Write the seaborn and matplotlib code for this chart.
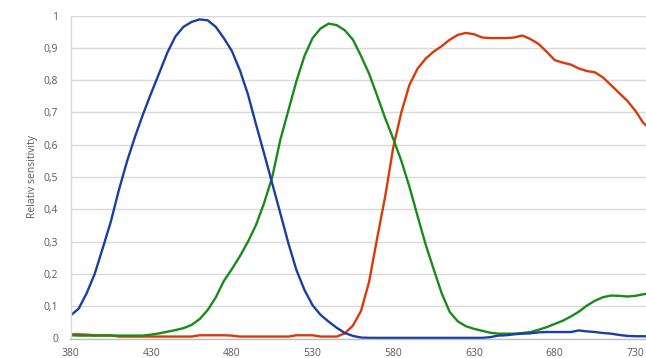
import numpy as np
import pandas as pd
import matplotlib
matplotlib.use("Agg")
import matplotlib.pyplot as plt
import seaborn as sns

wavelength = list(range(380, 745, 5))

blue = [0.071, 0.092, 0.140, 0.200, 0.280, 0.362, 0.460, 0.548, 0.625, 0.695,
        0.760, 0.822, 0.885, 0.935, 0.965, 0.980, 0.988, 0.985, 0.965, 0.930,
        0.890, 0.830, 0.755, 0.662, 0.572, 0.480, 0.388, 0.295, 0.212, 0.150,
        0.103, 0.073, 0.052, 0.033, 0.017, 0.008, 0.003, 0.002, 0.002, 0.002,
        0.002, 0.002, 0.002, 0.002, 0.002, 0.002, 0.002, 0.002, 0.002, 0.002,
        0.002, 0.002, 0.004, 0.009, 0.010, 0.013, 0.015, 0.016, 0.019, 0.020,
        0.020, 0.020, 0.020, 0.025, 0.022, 0.020, 0.017, 0.015, 0.011, 0.008,
        0.007, 0.007, 0.006]

green = [0.010, 0.009, 0.009, 0.009, 0.009, 0.009, 0.009, 0.009, 0.009, 0.009,
         0.012, 0.016, 0.021, 0.026, 0.032, 0.042, 0.060, 0.088, 0.127, 0.178,
         0.215, 0.255, 0.300, 0.352, 0.420, 0.500, 0.615, 0.706, 0.797, 0.875,
         0.930, 0.960, 0.975, 0.970, 0.954, 0.925, 0.875, 0.820, 0.752, 0.682,
         0.618, 0.550, 0.470, 0.380, 0.292, 0.215, 0.140, 0.082, 0.053, 0.038,
         0.030, 0.024, 0.018, 0.015, 0.015, 0.015, 0.017, 0.020, 0.027, 0.035,
         0.045, 0.055, 0.068, 0.083, 0.102, 0.117, 0.128, 0.133, 0.132, 0.130,
         0.132, 0.137, 0.140]

red = [0.013, 0.013, 0.012, 0.010, 0.010, 0.010, 0.006, 0.006, 0.006, 0.006,
       0.006, 0.006, 0.006, 0.006, 0.006, 0.006, 0.010, 0.010, 0.010, 0.010,
       0.009, 0.006, 0.006, 0.006, 0.006, 0.006, 0.006, 0.006, 0.010, 0.010,
       0.010, 0.006, 0.006, 0.006, 0.016, 0.040, 0.085, 0.175, 0.310, 0.440,
       0.592, 0.700, 0.785, 0.835, 0.866, 0.888, 0.905, 0.925, 0.940, 0.946,
       0.942, 0.932, 0.930, 0.930, 0.930, 0.932, 0.938, 0.927, 0.912, 0.888,
       0.862, 0.854, 0.848, 0.836, 0.828, 0.824, 0.808, 0.784, 0.760, 0.736,
       0.705, 0.667, 0.645]

x_ticks = [380, 430, 480, 530, 580, 630, 680, 730]
y_ticks = [0, 0.1, 0.2, 0.3, 0.4, 0.5, 0.6, 0.7, 0.8, 0.9, 1.0]
y_labels = ["0", "0,1", "0,2", "0,3", "0,4", "0,5", "0,6", "0,7", "0,8", "0,9", "1"]

df = pd.DataFrame({
    "wavelength": wavelength * 3,
    "value": red + green + blue,
    "series": ["Red"] * len(red) + ["Green"] * len(green) + ["Blue"] * len(blue),
})

sns.set_style("white")
plt.rcParams["font.family"] = ["Open Sans", "DejaVu Sans"]

fig = plt.figure(figsize=(6.46, 3.58), dpi=100)
ax = fig.add_axes([70.5 / 646, 19.5 / 358, 1 - 70.5 / 646, 323 / 358])

palette = {"Red": "#d83b0b", "Green": "#1b8a1b", "Blue": "#1a3fa0"}
sns.lineplot(data=df, x="wavelength", y="value", hue="series",
             hue_order=["Red", "Green", "Blue"], palette=palette,
             linewidth=1.7, legend=False, ax=ax)

ax.set_xlim(380, 736.6)
ax.set_ylim(0, 1)
ax.set_yticks(y_ticks)
ax.set_yticklabels(y_labels)
ax.set_xticks(x_ticks)
ax.set_xticklabels([str(t) for t in x_ticks])
ax.yaxis.grid(True, color="#d9d9d9", linewidth=1.0)
ax.xaxis.grid(False)
ax.set_axisbelow(True)
for s in ["top", "right"]:
    ax.spines[s].set_visible(False)
ax.spines["left"].set_color("#d9d9d9")
ax.spines["left"].set_linewidth(1.0)
ax.spines["bottom"].set_color("#bfbfbf")
ax.spines["bottom"].set_linewidth(1.0)
ax.tick_params(axis="both", length=0, labelsize=7.5, labelcolor="#595959")
ax.tick_params(axis="y", pad=9)
ax.tick_params(axis="x", pad=6.5)
ax.set_xlabel("")
ax.set_ylabel("Relativ sensitivity", fontsize=7.5, color="#595959", labelpad=4)

fig.savefig("out.png", dpi=100)
